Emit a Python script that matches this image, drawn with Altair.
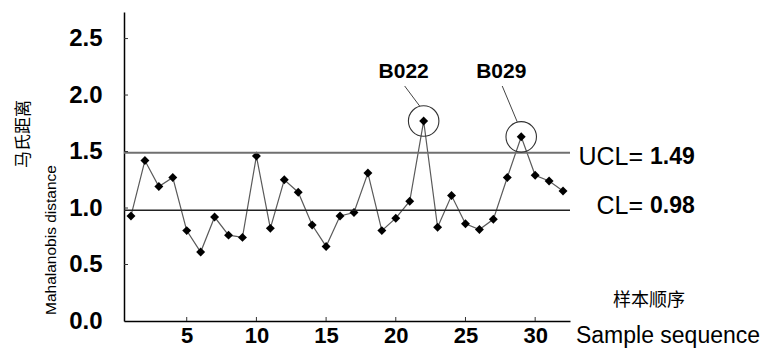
import altair as alt
import pandas as pd

# ---------------- data ----------------
samples = [1, 2, 3, 4, 5, 6, 7, 8, 9, 10, 11, 12, 13, 14, 15, 16,
           17, 18, 19, 20, 21, 22, 23, 24, 25, 26, 27, 28, 29, 30, 31, 32]
distance = [0.93, 1.42, 1.19, 1.27, 0.80, 0.61, 0.92, 0.76, 0.74, 1.46, 0.82,
            1.25, 1.14, 0.85, 0.66, 0.93, 0.96, 1.31, 0.80, 0.91, 1.06, 1.77,
            0.83, 1.11, 0.86, 0.81, 0.90, 1.27, 1.63, 1.29, 1.24, 1.15]
ucl = 1.49
cl = 0.98
outlier_samples = [22, 29]
outlier_labels = ["B022", "B029"]
x_ticks = [5, 10, 15, 20, 25, 30]
y_ticks = [0.0, 0.5, 1.0, 1.5, 2.0, 2.5]
y_title_cn = "马氏距离"
y_title_en = "Mahalanobis distance"
x_title_cn = "样本顺序"
x_title_en = "Sample sequence"

df = pd.DataFrame({"sample": samples, "distance": distance})
out_df = pd.DataFrame({
    "sample": outlier_samples,
    "distance": [distance[samples.index(s)] for s in outlier_samples],
    "label": outlier_labels,
})
ucl_df = pd.DataFrame({"value": [ucl], "pre": ["UCL="], "num": [f"{ucl:.2f}"]})
cl_df = pd.DataFrame({"value": [cl], "pre": ["CL="], "num": [f"{cl:.2f}"]})
xt_df = pd.DataFrame({"sample": x_ticks})
yt_df = pd.DataFrame({"distance": y_ticks[1:]})

FONT = "Liberation Sans"
CJK = "Noto Sans CJK SC"

x_scale = alt.Scale(domain=[0.5, 32.5], nice=False, zero=False)
y_scale = alt.Scale(domain=[0, 2.735], nice=False, zero=True)

x_axis = alt.Axis(values=x_ticks, ticks=False, grid=False, title=None,
                  domainColor="black", domainWidth=1.5,
                  labelFont=FONT, labelFontWeight="bold", labelFontSize=22,
                  labelColor="black", labelPadding=4)
y_axis = alt.Axis(values=y_ticks, ticks=False, grid=False, title=None,
                  format=".1f", domainColor="black", domainWidth=1.5,
                  labelFont=FONT, labelFontWeight="bold", labelFontSize=24,
                  labelColor="black", labelPadding=22)

X = alt.X("sample:Q", scale=x_scale, axis=x_axis, title=None)
Y = alt.Y("distance:Q", scale=y_scale, axis=y_axis, title=None)

base = alt.Chart(df)

line = base.mark_line(color="#5a5a5a", strokeWidth=1.2).encode(x=X, y=Y)
points = base.mark_point(shape="diamond", filled=True, size=80,
                         color="black", opacity=1).encode(x=X, y=Y)

ucl_rule = alt.Chart(ucl_df).transform_calculate(distance="datum.value").mark_rule(
    color="#707070", strokeWidth=2).encode(y=Y)
cl_rule = alt.Chart(cl_df).transform_calculate(distance="datum.value").mark_rule(
    color="#222222", strokeWidth=1.5).encode(y=Y)


def limit_text(data, field, align, xpos, dy, weight, size):
    return alt.Chart(data).transform_calculate(distance="datum.value").mark_text(
        align=align, baseline="middle", dy=dy, font=FONT, fontSize=size,
        fontWeight=weight, color="black").encode(
        x=alt.value(xpos), y=Y, text=f"{field}:N")


ucl_pre = limit_text(ucl_df, "pre", "right", 519, 4, "normal", 25)
ucl_num = limit_text(ucl_df, "num", "left", 526, 4, "bold", 23)
cl_pre = limit_text(cl_df, "pre", "right", 519, -4, "normal", 25)
cl_num = limit_text(cl_df, "num", "left", 526, -4, "bold", 23)

xticks = alt.Chart(xt_df).mark_rule(color="#333333", strokeWidth=1).encode(
    x=X, y=alt.value(309), y2=alt.value(305))
yticks = alt.Chart(yt_df).mark_rule(color="#333333", strokeWidth=1).encode(
    y=Y, x=alt.value(0), x2=alt.value(4))

circles = alt.Chart(out_df).mark_point(
    shape="circle", filled=False, size=930, stroke="#333333",
    strokeWidth=1.1, opacity=1).encode(x=X, y=Y)
leaders = alt.Chart(out_df).mark_rule(
    color="#444444", strokeWidth=1, xOffset=-4, yOffset=-15,
    x2Offset=-19).encode(
    x=X, x2=alt.X2("sample:Q"), y=Y, y2=alt.value(74))
labels = alt.Chart(out_df).mark_text(
    align="center", baseline="middle", dx=-20, font=FONT, fontSize=21,
    fontWeight="bold", color="black").encode(
    x=X, y=alt.value(60), text="label:N")

ytitle_cn = alt.Chart(pd.DataFrame({"t": [y_title_cn]})).mark_text(
    angle=270, align="center", baseline="middle", font=CJK, fontSize=17,
    color="black").encode(x=alt.value(-100), y=alt.value(122), text="t:N")
ytitle_en = alt.Chart(pd.DataFrame({"t": [y_title_en]})).mark_text(
    angle=270, align="center", baseline="middle", font=FONT, fontSize=15.5,
    color="black").encode(x=alt.value(-73), y=alt.value(228), text="t:N")
xtitle_cn = alt.Chart(pd.DataFrame({"t": [x_title_cn]})).mark_text(
    align="center", baseline="middle", font=CJK, fontSize=18,
    color="black").encode(x=alt.value(525), y=alt.value(289), text="t:N")
xtitle_en = alt.Chart(pd.DataFrame({"t": [x_title_en]})).mark_text(
    align="center", baseline="alphabetic", font=FONT, fontSize=23,
    color="black").encode(x=alt.value(544), y=alt.value(331), text="t:N")

chart = alt.layer(
    line, points, ucl_rule, cl_rule, xticks, yticks, circles, leaders, labels,
    ucl_pre, ucl_num, cl_pre, cl_num, ytitle_cn, ytitle_en, xtitle_cn, xtitle_en,
).properties(
    width=446, height=309,
    autosize=alt.AutoSizeParams(type="none"),
    padding={"left": 116, "top": 4, "right": 201, "bottom": 27},
    background="white",
).configure_view(stroke=None)

chart.save("out.html", embed_options={"renderer": "svg", "actions": False})
